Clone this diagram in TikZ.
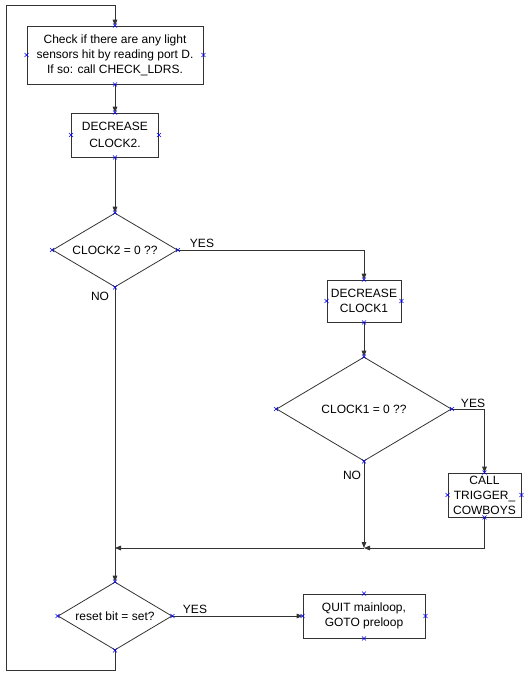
\documentclass[tikz,border=0pt]{standalone}
\usepackage{fontspec}
\setmainfont{Liberation Sans}
\usetikzlibrary{shapes.geometric,arrows.meta}
\begin{document}
\begin{tikzpicture}[x=0.75pt,y=-0.75pt,
    every node/.style={font=\fontsize{9}{11.25}\selectfont},
    line/.style={draw=black!80,line width=0.6pt},
    flow/.style={line,-{Triangle[length=4.5pt,width=3.5pt]}},
    procbox/.style 2 args={line,rectangle,align=center,inner sep=0pt,
      minimum width=#1*0.75pt,minimum height=#2*0.75pt},
    decision/.style 2 args={line,diamond,aspect=1.7,align=center,inner sep=0pt,
      minimum width=#1*0.75pt,minimum height=#2*0.75pt},
    lbl/.style={inner sep=0pt},
    cpt/.style={draw=blue,line width=0.4pt}]
  \useasboundingbox (0,0) rectangle (532,683);
  \node[procbox={176}{58}] (check) at (115,55) {Check if there are any light\\sensors hit by reading port D.\\If so: call CHECK\_LDRS.};
  \node[procbox={87}{44},font=\fontsize{9}{13}\selectfont] (dec2) at (115,135) {DECREASE\\CLOCK2.};
  \node[decision={125}{74}] (c2) at (115,250) {CLOCK2 = 0 ??};
  \node[procbox={74}{42}] (dec1) at (364,301) {DECREASE\\CLOCK1};
  \node[decision={175}{104}] (c1) at (364,409) {CLOCK1 = 0 ??};
  \node[procbox={73}{44}] (trig) at (484.5,495) {CALL\\TRIGGER\_\\COWBOYS};
  \node[decision={114}{68}] (reset) at (115,616) {reset bit = set?};
  \node[procbox={122}{44}] (quit) at (364,616) {QUIT mainloop,\\GOTO preloop};
  \coordinate (merge) at (364,548);
  \coordinate (loopbl) at (6,670);
  \coordinate (looptl) at (6,5);
  \draw[flow] (check) -- (dec2);
  \draw[flow] (dec2) -- (c2);
  \draw[flow] (c2.east) -| (dec1.north);
  \draw[flow] (dec1) -- (c1);
  \draw[flow] (c1.east) -| (trig.north);
  \draw[flow] (c1.south) -- (merge);
  \draw[flow] (trig.south) |- (merge);
  \draw[flow] (merge) -- (c2.south |- merge);
  \draw[flow] (c2.south) -- (reset.north);
  \draw[flow] (reset.east) -- (quit.west);
  \draw[flow] (reset.south) |- (loopbl) -- (looptl) -| (check.north);
  \node[lbl] (yesc2) at (202,243) {YES};
  \node[lbl] (noc2) at (100,296) {NO};
  \node[lbl] (yesc1) at (473,403) {YES};
  \node[lbl] (noc1) at (352,475) {NO};
  \node[lbl] (yesreset) at (195,609) {YES};
  \foreach \n in {check,dec2,c2,dec1,c1,trig,reset,quit}
    \foreach \a in {north,south,east,west}
      \draw[cpt] (\n.\a) +(-2,-2) -- +(2,2) +(-2,2) -- +(2,-2);
\end{tikzpicture}
\end{document}
